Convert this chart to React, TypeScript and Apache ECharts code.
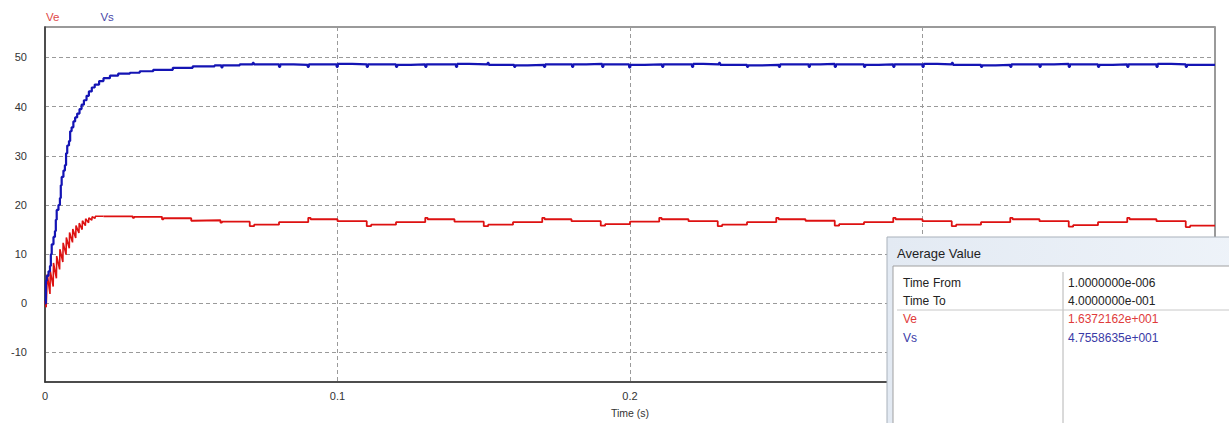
import React, { useEffect, useRef } from 'react';
import * as echarts from 'echarts';

// Ve start-up ripple (time s, volts)
const veStartup: [number, number][] = [
  [0, 0.5], [0.0004, -0.8], [0.0008, 5.9], [0.0017, 1.9], [0.0018, 6.6], [0.0028, 3.4],
  [0.0029, 8.2], [0.0039, 5.1], [0.004, 9.6], [0.005, 6.9], [0.0051, 11.0], [0.0061, 8.4],
  [0.0062, 12.3], [0.0072, 9.9], [0.0073, 13.4], [0.0083, 11.2], [0.0084, 14.4], [0.0094, 12.4],
  [0.0095, 15.1], [0.0105, 13.3], [0.0106, 15.8], [0.0116, 14.3], [0.0117, 16.3], [0.0127, 15.0],
  [0.0128, 16.8], [0.0138, 15.8], [0.0139, 17.2], [0.0149, 16.4], [0.015, 17.4], [0.016, 16.9],
  [0.0161, 17.6], [0.0171, 17.3], [0.0172, 17.7], [0.02, 17.7],
];

// Ve steady part (stepped)
const veSteady: [number, number][] = [
  [0.02, 17.7], [0.03, 17.4], [0.0305, 17.6], [0.04, 17.1], [0.0405, 17.3], [0.05, 16.8],
  [0.0505, 16.9], [0.06, 16.4], [0.0605, 16.6], [0.07, 15.7], [0.0715, 16.0], [0.08, 16.5],
  [0.09, 17.4], [0.0908, 17.1], [0.10, 16.7], [0.11, 15.7], [0.1115, 16.0], [0.12, 16.5],
  [0.13, 17.4], [0.1308, 17.1], [0.14, 16.6], [0.15, 15.7], [0.1515, 16.0], [0.16, 16.5],
  [0.17, 17.4], [0.1708, 17.1], [0.18, 16.7], [0.19, 15.8], [0.1915, 16.1], [0.20, 16.6],
  [0.21, 17.4], [0.2108, 17.1], [0.22, 16.7], [0.23, 15.7], [0.2315, 16.0], [0.24, 16.5],
  [0.25, 17.4], [0.2508, 17.1], [0.26, 16.8], [0.27, 15.8], [0.2715, 16.1], [0.28, 16.5],
  [0.29, 17.4], [0.2908, 17.1], [0.30, 16.7], [0.31, 15.7], [0.3115, 16.0], [0.32, 16.5],
  [0.33, 17.4], [0.3308, 17.1], [0.34, 16.7], [0.35, 15.6], [0.3515, 15.9], [0.36, 16.5],
  [0.37, 17.4], [0.3708, 17.1], [0.38, 16.7], [0.39, 15.5], [0.3915, 15.8], [0.40, 15.8],
];

// Vs (stepped)
const vsData: [number, number][] = [
  [0, 0], [0.0003, 4.6], [0.0006, 5.6], [0.0012, 6.5], [0.0017, 7.6], [0.002, 10.0],
  [0.0023, 12.0], [0.0029, 13.5], [0.0034, 14.7], [0.0037, 17.0], [0.004, 19.0], [0.0046, 20.0],
  [0.0051, 21.4], [0.0054, 24.0], [0.0057, 25.7], [0.0063, 27.0], [0.0068, 28.1], [0.0072, 30.5],
  [0.0076, 32.1], [0.0082, 33.0], [0.0086, 35.0], [0.0091, 35.8], [0.0097, 37.0], [0.0103, 37.8],
  [0.011, 38.6], [0.0118, 39.5], [0.0125, 40.4], [0.0133, 41.3], [0.0142, 42.2], [0.015, 43.1],
  [0.016, 43.9], [0.017, 44.5], [0.0185, 45.2], [0.02, 45.8], [0.0222, 46.3], [0.025, 46.7],
  [0.029, 46.9], [0.0324, 47.2], [0.037, 47.5], [0.0437, 47.9], [0.0505, 48.2], [0.058, 48.4],
  [0.0603, 48.0], [0.0607, 48.4], [0.0666, 48.6],
  [0.071, 48.9], [0.0714, 48.6], [0.08, 48.1], [0.0804, 48.6], [0.085, 48.5],
  [0.0898, 48.1], [0.0902, 48.6], [0.0997, 48.1], [0.1001, 48.7], [0.105, 48.6],
  [0.11, 48.1], [0.1104, 48.6], [0.12, 48.1], [0.1204, 48.5], [0.125, 48.6],
  [0.13, 48.1], [0.1304, 48.6], [0.1405, 48.1], [0.1409, 48.7], [0.145, 48.6],
  [0.1513, 48.9], [0.1517, 48.5], [0.1604, 48.1], [0.1608, 48.4], [0.165, 48.5],
  [0.1706, 48.1], [0.171, 48.6], [0.1802, 48.1], [0.1806, 48.6], [0.185, 48.7],
  [0.1905, 48.1], [0.1909, 48.6], [0.1997, 48.0], [0.2001, 48.5], [0.205, 48.6],
  [0.211, 48.1], [0.2114, 48.6], [0.2212, 48.1], [0.2216, 48.7], [0.225, 48.6],
  [0.2304, 48.9], [0.2308, 48.5], [0.24, 48.1], [0.2404, 48.4], [0.245, 48.5],
  [0.2509, 48.1], [0.2513, 48.6], [0.2611, 48.1], [0.2615, 48.6], [0.265, 48.7],
  [0.27, 48.1], [0.2704, 48.6], [0.28, 48.1], [0.2804, 48.5], [0.285, 48.6],
  [0.29, 48.1], [0.2904, 48.6], [0.30, 48.1], [0.3004, 48.7], [0.305, 48.6],
  [0.31, 48.9], [0.3104, 48.5], [0.32, 48.1], [0.3204, 48.4], [0.325, 48.5],
  [0.33, 48.1], [0.3304, 48.6], [0.34, 48.1], [0.3404, 48.6], [0.345, 48.7],
  [0.35, 48.1], [0.3504, 48.6], [0.36, 48.1], [0.3604, 48.5], [0.365, 48.6],
  [0.37, 48.1], [0.3704, 48.6], [0.38, 48.1], [0.3804, 48.7], [0.385, 48.6],
  [0.39, 48.1], [0.3904, 48.5], [0.40, 48.5],
];

const seriesNames = ['Ve', 'Vs'];
const seriesColors = ['#dd1111', '#1414b4'];
const legendColors = ['#e04848', '#4848a8'];

const avgRows = [
  { a: 'Time', b: 'From', v: '1.0000000e-006', color: '#222222' },
  { a: 'Time', b: 'To', v: '4.0000000e-001', color: '#222222' },
  { a: 'Ve', b: '', v: '1.6372162e+001', color: '#e03a3a' },
  { a: 'Vs', b: '', v: '4.7558635e+001', color: '#3a3aa6' },
];

export default function App() {
  const ref = useRef<HTMLDivElement>(null);
  useEffect(() => {
    document.body.style.margin = '0';
    const chart = echarts.init(ref.current!, null, { renderer: 'svg' });
    const font = 'Liberation Sans, Arial, sans-serif';
    const rowYs = [283, 301, 319, 338];
    const Z = 100;
    const boxTexts: any[] = [];
    avgRows.forEach((r, i) => {
      boxTexts.push({
        type: 'text', x: 903, y: rowYs[i], z: Z + 3,
        style: { text: r.a, fill: r.color, font: `12px ${font}`, verticalAlign: 'middle' },
      });
      if (r.b) {
        boxTexts.push({
          type: 'text', x: 933, y: rowYs[i], z: Z + 3,
          style: { text: r.b, fill: r.color, font: `12px ${font}`, verticalAlign: 'middle' },
        });
      }
      boxTexts.push({
        type: 'text', x: 1068, y: rowYs[i], z: Z + 3,
        style: { text: r.v, fill: r.color, font: `12px ${font}`, verticalAlign: 'middle' },
      });
    });
    chart.setOption({
      animation: false,
      backgroundColor: '#ffffff',
      legend: {
        show: true,
        left: 36,
        top: 6,
        icon: 'none',
        itemWidth: 0,
        itemHeight: 0,
        itemGap: 36,
        selectedMode: false,
        data: seriesNames.map((n, i) => ({ name: n, textStyle: { color: legendColors[i] } })),
        textStyle: { fontSize: 11.5, fontFamily: font },
      },
      grid: {
        left: 45, right: 14, top: 27, bottom: 38,
        show: true, borderColor: '#7a7a7a', borderWidth: 1.5,
      },
      xAxis: {
        type: 'value', min: 0, max: 0.4, interval: 0.1,
        name: 'Time (s)', nameLocation: 'middle', nameGap: 25,
        nameTextStyle: { fontSize: 10.5, color: '#333', fontFamily: font },
        axisLine: { show: true, onZero: false, lineStyle: { color: '#333', width: 1.5 } },
        axisTick: { show: false },
        axisLabel: {
          margin: 8, fontSize: 11, color: '#333', fontFamily: font,
          formatter: (v: number) => (v > 0.25 ? '' : String(Math.round(v * 10) / 10)),
        },
        splitLine: { show: true, lineStyle: { color: '#9a9a9a', type: [4, 3], width: 1 } },
      },
      yAxis: {
        type: 'value', min: -16, max: 56.2, splitNumber: 7,
        axisLine: { show: true, onZero: false, lineStyle: { color: '#333', width: 1.5 } },
        axisTick: { show: false },
        axisLabel: {
          margin: 18, fontSize: 11, color: '#333', fontFamily: font,
          formatter: (v: number) => (Math.abs(v % 10) < 1e-9 ? String(v) : ''),
        },
        splitLine: { show: true, lineStyle: { color: '#9a9a9a', type: [4, 3], width: 1 } },
      },
      series: [
        {
          name: 'Ve', type: 'line', data: veStartup, showSymbol: false, symbol: 'none',
          lineStyle: { color: seriesColors[0], width: 1.6 }, itemStyle: { color: seriesColors[0] }, z: 3,
        },
        {
          name: 'Ve', type: 'line', data: veSteady, step: 'end', showSymbol: false, symbol: 'none',
          lineStyle: { color: seriesColors[0], width: 1.8 }, itemStyle: { color: seriesColors[0] }, z: 3,
        },
        {
          name: 'Vs', type: 'line', data: vsData, step: 'end', showSymbol: false, symbol: 'none',
          lineStyle: { color: seriesColors[1], width: 2.2 }, itemStyle: { color: seriesColors[1] }, z: 4,
        },
      ],
      graphic: [
        {
          type: 'rect', z: Z, shape: { x: 887, y: 237, width: 360, height: 200 },
          style: {
            fill: new echarts.graphic.LinearGradient(0, 0, 1, 0, [
              { offset: 0, color: '#e3eaf3' },
              { offset: 1, color: '#eef3f9' },
            ]),
            stroke: '#a9b1bb', lineWidth: 1,
          },
        },
        {
          type: 'text', x: 897, y: 253, z: Z + 1,
          style: { text: 'Average Value', fill: '#1e1e1e', font: `13px ${font}`, verticalAlign: 'middle' },
        },
        {
          type: 'rect', z: Z + 1, shape: { x: 893, y: 266, width: 350, height: 170 },
          style: { fill: '#ffffff', stroke: '#a0a0a0', lineWidth: 1 },
        },
        {
          type: 'line', z: Z + 2, shape: { x1: 1063, y1: 272, x2: 1063, y2: 423 },
          style: { stroke: '#b4b4b4', lineWidth: 1 },
        },
        {
          type: 'line', z: Z + 2, shape: { x1: 897, y1: 310, x2: 1229, y2: 310 },
          style: { stroke: '#c8c8c8', lineWidth: 1 },
        },
        ...boxTexts,
      ],
    });
    return () => chart.dispose();
  }, []);
  return <div ref={ref} style={{ width: 1229, height: 423 }} />;
}
